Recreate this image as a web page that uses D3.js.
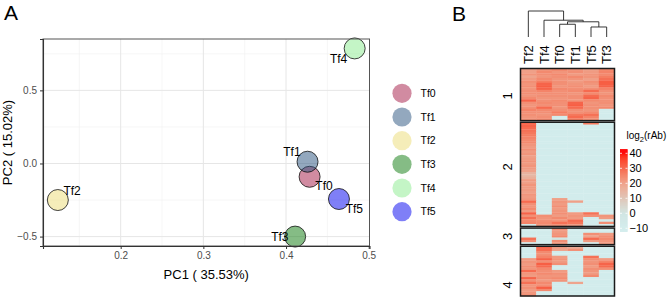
<!DOCTYPE html>
<html><head><meta charset="utf-8">
<script src="https://cdn.jsdelivr.net/npm/d3@7"></script>
<style>
body{margin:0;background:#fff;}
svg{display:block;font-family:"Liberation Sans",Arial,sans-serif;}
</style></head>
<body>
<svg id="c" width="667" height="297"></svg>
<script>
// ---------------- DATA ----------------
const samples = ["Tf0","Tf1","Tf2","Tf3","Tf4","Tf5"];
const pc1 = [0.4285, 0.426, 0.124, 0.411, 0.483, 0.464];
const pc2 = [-0.091, 0.012, -0.25, -0.5, 0.787, -0.243];
const pc1Label = "PC1 ( 35.53%)";
const pc2Label = "PC2 ( 15.02%)";
const xTicks = [0.2, 0.3, 0.4, 0.5];
const yTicks = [-0.5, 0.0, 0.5];

// heatmap column order (dendrogram leaf order)
const hmColumns = ["Tf2","Tf4","Tf0","Tf1","Tf5","Tf3"];
const sliceNames = ["1","2","3","4"];
// rows: values for [Tf2, Tf4, Tf0, Tf1, Tf5, Tf3]
const slice1 = [
 [20,22,24,22,20,24],[20,24,22,23,21,25],[22,23,24,21,22,24],[19,22,23,24,22,26],
 [21,24,22,22,20,28],[23,26,23,21,23,31],[22,30,23,22,22,31],[23,31,22,23,21,30],
 [22,30,24,23,23,25],[23,25,23,24,29,23],[23,23,23,22,24,22],[22,23,23,23,29,24],
 [24,22,22,23,30,23],[30,23,24,22,24,23],[23,24,23,30,22,23],[22,23,23,31,23,22],
 [23,29,22,29,23,24],[25,24,23,23,22,-10],[23,23,26,23,24,-10],[23,22,24,27,28,-10],
 [22,23,-10,29,25,-10],[23,24,-10,26,23,-10]
];
const slice2 = [
 [30,-10,-10,-10,27,-10],[30,-10,-10,-10,-10,-10],[29,-10,-10,-10,-10,-10],[28,-10,-10,-10,-10,-10],
 [27,-10,-10,-10,-10,-10],[26,-10,-10,-10,-10,-10],[25,-10,-10,-10,-10,-10],[24,-10,-10,-10,-10,-10],
 [24,-10,-10,-10,-10,-10],[22,-10,-10,-10,-10,-10],[21,-10,-10,-10,-10,-10],[23,-10,-10,-10,-10,-10],
 [21,-10,-10,-10,-10,-10],[22,-10,-10,-10,-10,-10],[20,-10,-10,-10,-10,-10],[21,-10,-10,-10,-10,-10],
 [22,-10,-10,-10,-10,-10],[21,-10,-10,-10,-10,-10],[22,-10,-10,-10,-10,-10],[21,-10,-10,-10,-10,-10],
 [20,-10,-10,-10,-10,-10],[15,-10,-10,-10,-10,-10],[14,-10,-10,-10,-10,-10],[16,-10,-10,-10,-10,-10],
 [21,-10,-10,-10,-10,-10],[20,-10,-10,-10,-10,-10],[22,-10,-10,-10,-10,-10],[21,-10,-10,-10,-10,-10],
 [21,-10,-10,-10,-10,-10],[20,-10,-10,-10,-10,-10],[22,-10,-10,-10,-10,-10],[21,-10,-10,-10,-10,-10],
 [22,-10,20,-10,-10,-10],[29,-10,22,20,-10,-10],[23,-10,21,-10,-10,-10],[22,-10,23,-10,-10,-10],
 [24,-10,21,-10,-10,-10],[21,-10,22,-10,-10,-10],[30,-10,23,21,28,-10],[23,23,21,22,23,22],
 [28,22,24,21,-10,21],[24,23,22,29,-10,-10],[25,24,28,27,-10,23],[-5,22,23,21,-10,-10]
];
const slice3 = [
 [-10,-10,23,-10,-10,-10],[-10,-10,21,-10,-10,-10],[-10,-10,22,-10,23,21],[-10,-10,24,-10,19,23],
 [28,-10,0,-10,29,24],[23,-10,23,-10,21,22],[-10,-10,21,-10,-10,21]
];
const slice4 = [
 [-10,30,21,17,-10,-10],[-10,29,19,23,-10,-10],[-10,24,-10,-10,-10,-10],[-10,23,-10,-10,-10,-10],
 [-10,25,21,-10,28,-10],[21,30,22,-10,23,21],[22,23,21,-10,22,25],[21,31,23,-10,23,30],
 [23,29,-10,-10,21,29],[22,24,-10,-10,23,23],[29,23,21,-10,22,-10],[22,24,23,-10,21,-10],
 [21,22,22,-10,24,-10],[30,23,24,-10,-10,-10],[23,21,22,-10,-10,-10],[28,24,-10,19,-10,-10],
 [22,23,-10,-10,-10,-10],[23,31,-10,-10,-10,-10],[21,24,-10,-10,-10,-10],[22,-10,-10,-10,-10,-10],
 [23,-10,-10,-10,-10,-10]
];
const legendBreaks = [-10, 0, 10, 20, 30, 40];
// column dendrogram (merge heights, relative)
const dendro = {h:1.0, children:[{leaf:"Tf2"},
  {h:0.646, children:[{leaf:"Tf4"},
    {h:0.585, children:[
      {h:0.49, children:[{leaf:"Tf0"},{leaf:"Tf1"}]},
      {h:0.385, children:[{leaf:"Tf5"},{leaf:"Tf3"}]}]}]}]};

// ---------------- STYLE ----------------
const sampleColors = ["#a31744","#27517d","#ebdc73","#0c7a0c","#8aeb8e","#0000f0"];
const labelNudge = [[5.7,13.7],[-24.3,-5.3],[5.6,-5.3],[-24,4.7],[-24.7,14.4],[6.7,14]];

const svg = d3.select("#c");

// ================= PANEL A =================
const pa = {l:43, r:369.5, t:39, b:246};
function expand(ext){const d=(ext[1]-ext[0])*0.05;return [ext[0]-d, ext[1]+d];}
const x = d3.scaleLinear().domain(expand(d3.extent(pc1))).range([pa.l, pa.r]);
const y = d3.scaleLinear().domain(expand(d3.extent(pc2))).range([pa.b, pa.t]);

const gA = svg.append("g");
// minor grid
const xMinor = [0.15,0.25,0.35,0.45], yMinor = [-0.25,0.25,0.75];
gA.selectAll(".xm").data(xMinor.filter(v=>x(v)>pa.l&&x(v)<pa.r)).join("line")
  .attr("x1",d=>x(d)).attr("x2",d=>x(d)).attr("y1",pa.t).attr("y2",pa.b)
  .attr("stroke","#f0f0f0").attr("stroke-width",0.6);
gA.selectAll(".ym").data(yMinor.filter(v=>y(v)>pa.t&&y(v)<pa.b)).join("line")
  .attr("y1",d=>y(d)).attr("y2",d=>y(d)).attr("x1",pa.l).attr("x2",pa.r)
  .attr("stroke","#f0f0f0").attr("stroke-width",0.6);
// major grid
gA.selectAll(".xM").data(xTicks.filter(v=>x(v)<pa.r-1)).join("line")
  .attr("x1",d=>x(d)).attr("x2",d=>x(d)).attr("y1",pa.t).attr("y2",pa.b)
  .attr("stroke","#e6e6e6").attr("stroke-width",1);
gA.selectAll(".yM").data(yTicks).join("line")
  .attr("y1",d=>y(d)).attr("y2",d=>y(d)).attr("x1",pa.l).attr("x2",pa.r)
  .attr("stroke","#e6e6e6").attr("stroke-width",1);

// points
gA.selectAll("circle.pt").data(samples).join("circle")
  .attr("cx",(d,i)=>x(pc1[i])).attr("cy",(d,i)=>y(pc2[i])).attr("r",10.5)
  .attr("fill",(d,i)=>sampleColors[i]).attr("fill-opacity",0.5)
  .attr("stroke","#111").attr("stroke-width",0.8);
// point labels
gA.selectAll("text.pl").data(samples).join("text")
  .attr("x",(d,i)=>x(pc1[i])+labelNudge[i][0]).attr("y",(d,i)=>y(pc2[i])+labelNudge[i][1])
  .attr("font-size",12).attr("fill","#000").text(d=>d);

// border
gA.append("rect").attr("x",pa.l).attr("y",pa.t).attr("width",pa.r-pa.l).attr("height",pa.b-pa.t)
  .attr("fill","none").attr("stroke","#555").attr("stroke-width",1);

// axes
const fmt = d3.format(".1f");
const ax = gA.append("g").attr("transform",`translate(0,${pa.b})`)
  .call(d3.axisBottom(x).tickValues(xTicks).tickSize(3).tickPadding(3).tickFormat(fmt));
const ay = gA.append("g").attr("transform",`translate(${pa.l},0)`)
  .call(d3.axisLeft(y).tickValues(yTicks).tickSize(3).tickPadding(3).tickFormat(fmt));
[ax,ay].forEach(a=>{
  a.select(".domain").attr("stroke","#333").attr("stroke-width",1.1);
  a.selectAll(".tick line").attr("stroke","#333");
  a.selectAll(".tick text").attr("fill","#4d4d4d").attr("font-size",10)
    .attr("font-family","Liberation Sans, Arial, sans-serif");
});
gA.append("text").attr("x",(pa.l+pa.r)/2).attr("y",279).attr("text-anchor","middle")
  .attr("font-size",13).text(pc1Label);
gA.append("text").attr("transform",`translate(12,${(pa.t+pa.b)/2}) rotate(-90)`)
  .attr("text-anchor","middle").attr("font-size",13).text(pc2Label);

// legend
const lg = gA.append("g");
const lgY = d3.scaleBand().domain(samples).range([81.5, 223.5]);
lg.selectAll("circle").data(samples).join("circle")
  .attr("cx",402).attr("cy",d=>lgY(d)+lgY.bandwidth()/2).attr("r",9.6)
  .attr("fill",(d,i)=>sampleColors[i]).attr("fill-opacity",0.5);
lg.selectAll("text").data(samples).join("text")
  .attr("x",420.5).attr("y",d=>lgY(d)+lgY.bandwidth()/2).attr("dy","0.36em")
  .attr("font-size",10.5).text(d=>d);

// panel letters
svg.append("text").attr("x",4).attr("y",20).attr("font-size",21).text("A");
svg.append("text").attr("x",452).attr("y",21).attr("font-size",21).text("B");

// ================= PANEL B =================
const slices = [slice1, slice2, slice3, slice4];
const hmTop = 68.5, hmBottom = 296, gap = 1.6;
const nRows = slices.reduce((s,a)=>s+a.length,0);
const rowH = (hmBottom-hmTop-gap*(slices.length-1))/nRows;
const xb = d3.scaleBand().domain(hmColumns).range([520.5, 614.5]);
const color = d3.scaleLinear().domain([-10, 0, 10, 20, 30, 40])
  .range(["#d2ecec","#d0e5e2","#dec4b6","#efa088","#f6644a","#ff0000"])
  .interpolate(d3.interpolateLab).clamp(true);

const gB = svg.append("g");
let yStart = hmTop;
const sliceBounds = [];
slices.forEach((rows, si)=>{
  const yb = d3.scaleBand().domain(d3.range(rows.length)).range([yStart, yStart+rows.length*rowH]);
  const g = gB.append("g");
  rows.forEach((r, ri)=>{
    g.selectAll(null).data(r).join("rect")
      .attr("x",(d,ci)=>xb(hmColumns[ci])).attr("y",yb(ri))
      .attr("width",xb.bandwidth()+0.3).attr("height",yb.bandwidth()+0.3)
      .attr("fill",d=>color(d));
  });
  sliceBounds.push([yStart, yStart+rows.length*rowH]);
  yStart += rows.length*rowH + gap;
});
sliceBounds.forEach(b=>{
  gB.append("rect").attr("x",520.5).attr("y",b[0]).attr("width",94).attr("height",b[1]-b[0])
    .attr("fill","none").attr("stroke","#1a1a1a").attr("stroke-width",1.5);
});
// slice titles
const sliceLabelY = [96, 167, 236.5, 285];
gB.selectAll("text.sl").data(sliceNames).join("text")
  .attr("transform",(d,i)=>`translate(507,${sliceLabelY[i]}) rotate(-90)`)
  .attr("text-anchor","middle").attr("dy","0.36em").attr("font-size",13).text(d=>d);

// column labels
gB.selectAll("text.cl").data(hmColumns).join("text")
  .attr("transform",d=>`translate(${xb(d)+xb.bandwidth()/2},64) rotate(-90)`)
  .attr("dy","0.36em").attr("font-size",13).text(d=>d);

// dendrogram
const dy = d3.scaleLinear().domain([0,1]).range([37,11]);
function layout(n){
  if(n.leaf){n.x = xb(n.leaf)+xb.bandwidth()/2; n.y = dy(0); return n;}
  n.children.forEach(layout);
  n.x = d3.mean(n.children,c=>c.x); n.y = dy(n.h); return n;
}
layout(dendro);
const segs = [];
(function walk(n){
  if(n.leaf) return;
  segs.push([n.children[0].x, n.y, n.children[1].x, n.y]);
  n.children.forEach(c=>{ segs.push([c.x, c.y, c.x, n.y]); walk(c); });
})(dendro);
gB.selectAll("line.dd").data(segs).join("line")
  .attr("x1",d=>d[0]).attr("y1",d=>d[1]).attr("x2",d=>d[2]).attr("y2",d=>d[3])
  .attr("stroke","#222").attr("stroke-width",0.9);

// color legend
const legT = gB.append("text").attr("x",626.5).attr("y",139).attr("font-size",10);
legT.append("tspan").text("log");
legT.append("tspan").attr("font-size",7.5).attr("dy",3).text("2");
legT.append("tspan").attr("dy",-3).text("(rAb)");
const ly = d3.scaleLinear().domain([-10,40]).range([228.3,153.3]);
const barVals = d3.range(-12.2, 42.7, 0.25);
gB.selectAll("rect.cb").data(barVals).join("rect")
  .attr("x",620).attr("y",d=>ly(d+0.25)).attr("width",7.5).attr("height",ly(0)-ly(0.25)+0.4)
  .attr("fill",d=>color(d));
gB.selectAll("line.tk1").data(legendBreaks).join("line")
  .attr("x1",620).attr("x2",622).attr("y1",d=>ly(d)).attr("y2",d=>ly(d)).attr("stroke","#fff").attr("stroke-width",0.8);
gB.selectAll("line.tk2").data(legendBreaks).join("line")
  .attr("x1",625.5).attr("x2",627.5).attr("y1",d=>ly(d)).attr("y2",d=>ly(d)).attr("stroke","#fff").attr("stroke-width",0.8);
gB.selectAll("text.lb").data(legendBreaks).join("text")
  .attr("x",629.5).attr("y",d=>ly(d)).attr("dy","0.36em").attr("font-size",11)
  .text(d=>d<0?"\u2212"+Math.abs(d):d);
</script>
</body></html>
